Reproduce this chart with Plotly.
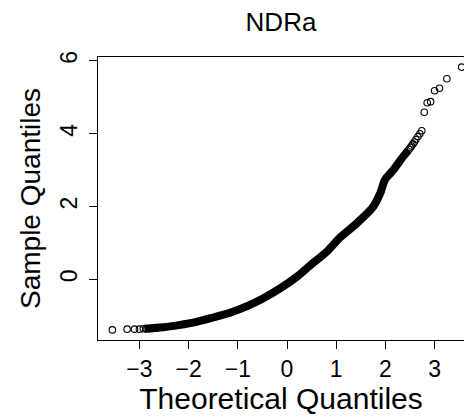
import plotly.graph_objects as go

# Dense central band of the QQ plot (theoretical, sample)
band_theo = [-2.90, -2.51, -2.20, -1.84, -1.50, -1.16, -0.80, -0.48, -0.14, 0.20,
             0.47, 0.81, 1.08, 1.42, 1.75, 1.90, 1.99, 2.16, 2.36, 2.47]
band_samp = [-1.36, -1.32, -1.26, -1.17, -1.05, -0.92, -0.73, -0.52, -0.25, 0.07,
             0.38, 0.76, 1.15, 1.54, 1.99, 2.38, 2.73, 3.00, 3.37, 3.55]

# Isolated points in the tails
low_theo = [-3.55, -3.25, -3.10, -3.00, -2.92, -2.86, -2.80, -2.74]
low_samp = [-1.39, -1.37, -1.37, -1.37, -1.36, -1.36, -1.36, -1.35]
high_theo = [2.48, 2.51, 2.53, 2.56, 2.59, 2.62, 2.66, 2.70, 2.74, 2.79, 2.85,
             2.92, 3.00, 3.10, 3.25, 3.55]
high_samp = [3.57, 3.62, 3.66, 3.72, 3.77, 3.84, 3.92, 4.00, 4.08, 4.59, 4.85,
             4.88, 5.18, 5.25, 5.51, 5.83]

x_ticks = [-3, -2, -1, 0, 1, 2, 3]
y_ticks = [0, 2, 4, 6]

FONT = "Liberation Sans, Arial, Helvetica, sans-serif"

fig = go.Figure()
fig.add_trace(go.Scatter(
    x=band_theo, y=band_samp, mode="lines",
    line=dict(color="black", width=8, shape="spline", smoothing=0.8),
    hoverinfo="skip", showlegend=False))
fig.add_trace(go.Scatter(
    x=low_theo + high_theo, y=low_samp + high_samp, mode="markers",
    marker=dict(symbol="circle-open", size=6.5, color="black",
                line=dict(color="black", width=1.1)),
    showlegend=False))

fig.update_layout(
    width=464, height=417,
    margin=dict(l=98, r=0, t=57, b=77),
    paper_bgcolor="white", plot_bgcolor="white",
    font=dict(family=FONT, color="black"),
    title=dict(text="NDRa", x=0.5, xref="paper", xanchor="center",
               y=1 - 22 / 417, yref="container", yanchor="middle",
               font=dict(size=26, family=FONT, color="black")),
)
fig.update_xaxes(
    range=[-3.842, 3.598], tickmode="array", tickvals=x_ticks,
    ticks="outside", ticklen=8, tickwidth=1, tickcolor="black",
    showline=True, linecolor="black", linewidth=1, mirror=True,
    showgrid=False, zeroline=False,
    tickfont=dict(size=23, family=FONT, color="black"),
    title=dict(text="Theoretical Quantiles", standoff=0,
               font=dict(size=30, family=FONT, color="black")),
)
fig.update_yaxes(
    range=[-1.668, 6.107], tickmode="array", tickvals=y_ticks,
    ticks="outside", ticklen=8, tickwidth=1, tickcolor="black",
    showline=True, linecolor="black", linewidth=1, mirror=False,
    showgrid=False, zeroline=False, tickangle=-90, ticklabelstandoff=3,
    tickfont=dict(size=23, family=FONT, color="black"),
    title=dict(text="Sample Quantiles", standoff=6,
               font=dict(size=28, family=FONT, color="black")),
)

fig.write_html("out.html")
